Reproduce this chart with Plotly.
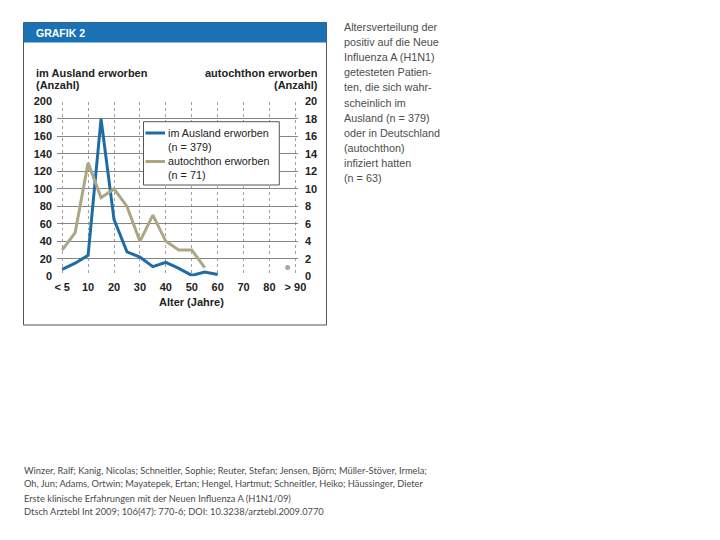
import plotly.graph_objects as go

# ---- data ----
ages = [0, 5, 10, 15, 20, 25, 30, 35, 40, 45, 50, 55, 60]
ausland = [8, 15, 24, 180, 65, 28, 22, 11, 16, 9, 1, 5, 2]
autochthon_ages = [0, 5, 10, 15, 20, 25, 30, 35, 40, 45, 50, 55]
autochthon = [3, 5, 13, 9, 10, 8, 4, 7, 4, 3, 3, 1]
auto_extra_age = [87]
auto_extra_val = [1]
tick_vals = [0, 10, 20, 30, 40, 50, 60, 70, 80, 90]
tick_text = ["< 5", "10", "20", "30", "40", "50", "60", "70", "80", "> 90"]
left_ticks = [0, 20, 40, 60, 80, 100, 120, 140, 160, 180, 200]
right_ticks = [0, 2, 4, 6, 8, 10, 12, 14, 16, 18, 20]

BLUE = "#1e6ca6"
TAN = "#ada683"
HEADER = "#1a72b5"
SANS = "Liberation Sans, Arial, sans-serif"

W, H = 720, 540
OFF = 8  # page body margin
def px(x):
    return (x - OFF) / W
def py(y):
    return 1 - (y - OFF) / H

fig = go.Figure()
fig.add_trace(go.Scatter(x=ages, y=ausland, mode="lines", line=dict(color=BLUE, width=3),
                         name="im Ausland erworben", cliponaxis=False, showlegend=False))
fig.add_trace(go.Scatter(x=autochthon_ages, y=autochthon, mode="lines", yaxis="y2",
                         line=dict(color=TAN, width=3), name="autochthon erworben",
                         cliponaxis=False, showlegend=False))
fig.add_trace(go.Scatter(x=auto_extra_age, y=auto_extra_val, mode="markers", yaxis="y2",
                         marker=dict(color="#a8a8a0", size=5), showlegend=False, cliponaxis=False))

tickfont = dict(family=SANS, size=11, color="#222", weight="bold")
fig.update_layout(
    template="none",
    width=W, height=H, paper_bgcolor="white", plot_bgcolor="white",
    margin=dict(l=0, r=0, t=0, b=0, pad=0, autoexpand=False), showlegend=False,
    xaxis=dict(domain=[px(57), px(298)], range=[-2, 91], tickvals=tick_vals, ticktext=tick_text,
               showgrid=True, gridcolor="#a0a0a0", griddash="dot", gridwidth=1, automargin=False,
               zeroline=False, showline=False, ticks="", tickfont=tickfont, ticklabelstandoff=3),
    yaxis=dict(domain=[py(276.3), py(101.5)], range=[0, 200], tickvals=left_ticks, automargin=False,
               showgrid=True, gridcolor="#858585", gridwidth=1.4, zeroline=False, showline=False,
               ticks="", tickfont=tickfont, ticklabelstandoff=4),
    yaxis2=dict(overlaying="y", side="right", range=[0, 20], tickvals=right_ticks, automargin=False,
                showgrid=False, zeroline=False, showline=False, ticks="", tickfont=tickfont,
                ticklabelstandoff=6, anchor="x"),
)

shapes = []
shapes.append(dict(type="rect", xref="paper", yref="paper", x0=px(23.5), x1=px(326.5),
                   y0=py(325), y1=py(22.5), line=dict(color="#555", width=1)))
shapes.append(dict(type="rect", xref="paper", yref="paper", x0=px(23.5), x1=px(326.5),
                   y0=py(42.5), y1=py(22.5), fillcolor=HEADER, line=dict(width=0)))
shapes.append(dict(type="rect", xref="paper", yref="paper", x0=px(143.5), x1=px(279.3),
                   y0=py(185), y1=py(121.7), fillcolor="white", line=dict(color="#555", width=1),
                   layer="above"))
shapes.append(dict(type="line", xref="paper", yref="paper", x0=px(145.5), x1=px(165),
                   y0=py(133), y1=py(133), line=dict(color=BLUE, width=3), layer="above"))
shapes.append(dict(type="line", xref="paper", yref="paper", x0=px(145.5), x1=px(165),
                   y0=py(161.5), y1=py(161.5), line=dict(color=TAN, width=3), layer="above"))
fig.update_layout(shapes=shapes)

ann = []
def text(x, y, s, size=11, color="#222", xanchor="left", family=SANS, bold=False):
    if bold:
        s = "<b>" + s + "</b>"
    ann.append(dict(x=px(x), y=py(y), xref="paper", yref="paper", text=s, showarrow=False,
                    xanchor=xanchor, yanchor="middle", align="left", borderpad=0,
                    font=dict(family=family, size=size, color=color)))

text(35, 33, "GRAFIK 2", size=10.5, color="white", bold=True)
text(34.5, 72.7, "im Ausland erworben", bold=True)
text(34.5, 85.5, "(Anzahl)", bold=True)
text(319, 72.7, "autochthon erworben", bold=True, xanchor="right")
text(319, 85.5, "(Anzahl)", bold=True, xanchor="right")
text(191, 302, "Alter (Jahre)", size=11, bold=True, xanchor="center")

text(167, 133, "im Ausland erworben", size=10.8)
text(167, 147.5, "(n = 379)", size=10.8)
text(167, 161.5, "autochthon erworben", size=10.8)
text(167, 175.5, "(n = 71)", size=10.8)

desc = ["Altersverteilung der", "positiv auf die Neue", "Influenza A (H1N1)",
        "getesteten Patien-", "ten, die sich wahr-", "scheinlich im",
        "Ausland (n = 379)", "oder in Deutschland", "(autochthon)",
        "infiziert hatten", "(n = 63)"]
for i, line in enumerate(desc):
    text(343, 27 + i * 15.1, line, size=10.8, color="#4d4d4d")

cite = ["Winzer, Ralf; Kanig, Nicolas; Schneitler, Sophie; Reuter, Stefan; Jensen, Björn; Müller-Stöver, Irmela;",
        "Oh, Jun; Adams, Ortwin; Mayatepek, Ertan; Hengel, Hartmut; Schneitler, Heiko; Häussinger, Dieter",
        "Erste klinische Erfahrungen mit der Neuen Influenza A (H1N1/09)",
        "Dtsch Arztebl Int 2009; 106(47): 770-6; DOI: 10.3238/arztebl.2009.0770"]
cite_y = [470, 483.5, 498, 511.5]
for s, yy in zip(cite, cite_y):
    text(23, yy, s, size=9.3, color="#4a4a4a", family="Lato, sans-serif")

fig.update_layout(annotations=ann)
fig.write_html("out.html")
